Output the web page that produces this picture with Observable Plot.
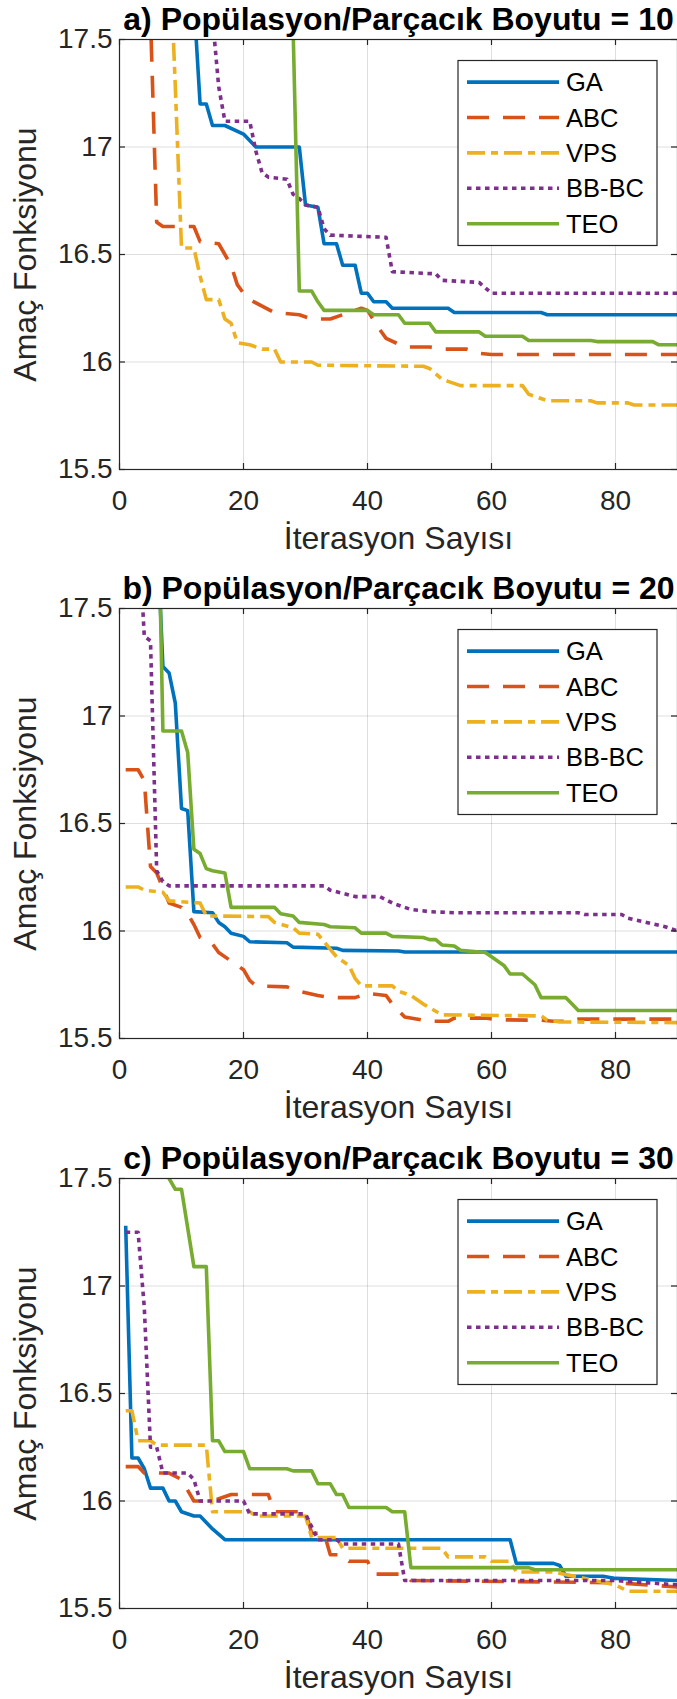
<!DOCTYPE html>
<html>
<head>
<meta charset="utf-8">
<script src="https://cdn.jsdelivr.net/npm/d3@7"></script>
<script src="https://cdn.jsdelivr.net/npm/@observablehq/plot@0.6"></script>
<style>
  body { margin: 0; background: #fff; overflow: hidden; }
  #chart svg { display: block; }
</style>
</head>
<body>
<div id="chart"></div>
<script>
// Convergence curves: objective value per iteration, three population sizes.
const iterTicks = [0, 20, 40, 60, 80];
const valueTicks = [15.5, 16, 16.5, 17, 17.5];
const algorithms = ["GA", "ABC", "VPS", "BB-BC", "TEO"];
const titles = [
  "a) Popülasyon/Parçacık Boyutu = 10",
  "b) Popülasyon/Parçacık Boyutu = 20",
  "c) Popülasyon/Parçacık Boyutu = 30"
];
const xLabel = "İterasyon Sayısı";
const yLabel = "Amaç Fonksiyonu";

// [iteration, objective] breakpoints — population 10
const gaPop10 = [[10,18.2],[12,17.68],[13,17.2],[14,17.2],[15,17.1],[17,17.1],[20,17.06],[22,17.0],[29,17.0],[30,16.73],[32,16.72],[33,16.55],[35,16.55],[36,16.45],[38,16.45],[39,16.32],[40,16.32],[41,16.28],[43,16.28],[44,16.25],[53,16.25],[54,16.23],[68,16.23],[69,16.22],[90,16.22]];
const abcPop10 = [[4,18.0],[5,17.6],[6,16.65],[7,16.63],[12,16.63],[13,16.56],[16,16.55],[17,16.5],[18,16.45],[19,16.36],[20,16.32],[21,16.29],[23,16.26],[25,16.23],[29,16.22],[31,16.2],[34,16.2],[36,16.22],[39,16.25],[40,16.24],[42,16.15],[43,16.11],[46,16.07],[50,16.07],[52,16.06],[56,16.06],[58,16.04],[60,16.035],[90,16.035]];
const vpsPop10 = [[8,18.0],[9,17.28],[10,16.53],[12,16.53],[13,16.4],[14,16.29],[16,16.29],[17,16.2],[18,16.18],[19,16.09],[21,16.08],[23,16.06],[25,16.06],[26,16.0],[31,16.0],[32,15.985],[49,15.98],[50,15.97],[52,15.92],[53,15.91],[55,15.89],[65,15.89],[66,15.85],[68,15.83],[69,15.82],[76,15.82],[77,15.81],[82,15.81],[83,15.8],[90,15.8]];
const bbbcPop10 = [[14,18.2],[15,17.6],[16,17.28],[17,17.12],[21,17.12],[22,16.98],[23,16.88],[24,16.86],[27,16.85],[28,16.78],[29,16.76],[30,16.73],[32,16.72],[33,16.62],[34,16.59],[43,16.58],[44,16.42],[51,16.41],[52,16.38],[58,16.37],[60,16.32],[90,16.32]];
const teoPop10 = [[27,19.0],[28,17.55],[29,16.33],[31,16.33],[32,16.28],[33,16.24],[40,16.24],[41,16.22],[45,16.22],[46,16.18],[50,16.18],[51,16.14],[58,16.14],[59,16.12],[65,16.12],[66,16.1],[76,16.1],[77,16.095],[86,16.095],[87,16.08],[90,16.08]];

// population 20
const gaPop20 = [[5,18.5],[6,17.9],[7,17.23],[8,17.2],[9,17.06],[10,16.57],[11,16.56],[12,16.09],[15,16.085],[16,16.04],[17,16.02],[18,15.99],[20,15.975],[21,15.95],[27,15.945],[28,15.925],[35,15.92],[36,15.91],[45,15.907],[46,15.902],[90,15.902]];
const abcPop20 = [[1,16.75],[3,16.75],[4,16.7],[5,16.3],[6,16.27],[7,16.2],[8,16.13],[10,16.11],[11,16.08],[12,16.03],[13,15.97],[15,15.94],[16,15.9],[18,15.86],[20,15.82],[21,15.77],[22,15.745],[27,15.74],[29,15.72],[32,15.7],[34,15.69],[38,15.69],[40,15.71],[43,15.7],[44,15.66],[46,15.6],[50,15.58],[53,15.58],[54,15.595],[59,15.595],[61,15.587],[68,15.585],[70,15.58],[73,15.58],[74,15.59],[90,15.59]];
const vpsPop20 = [[1,16.205],[3,16.205],[4,16.19],[7,16.18],[8,16.14],[13,16.13],[14,16.07],[24,16.067],[25,16.04],[28,16.015],[29,15.99],[32,15.985],[33,15.95],[35,15.88],[37,15.84],[38,15.78],[39,15.745],[44,15.745],[45,15.72],[47,15.7],[49,15.66],[52,15.61],[68,15.605],[69,15.585],[71,15.577],[90,15.574]];
const bbbcPop20 = [[3,17.9],[4,17.37],[5,17.35],[6,16.28],[7,16.23],[8,16.21],[33,16.21],[34,16.19],[38,16.16],[42,16.16],[44,16.13],[47,16.1],[50,16.09],[54,16.085],[74,16.085],[75,16.077],[81,16.077],[82,16.06],[85,16.04],[88,16.02],[90,16.0]];
const teoPop20 = [[6,18.35],[7,16.93],[10,16.93],[11,16.83],[12,16.38],[13,16.36],[14,16.29],[15,16.28],[17,16.27],[18,16.11],[25,16.11],[26,16.08],[28,16.07],[29,16.04],[33,16.03],[34,16.02],[38,16.015],[39,15.99],[43,15.99],[44,15.975],[49,15.97],[50,15.96],[51,15.96],[52,15.935],[54,15.93],[55,15.91],[59,15.9],[60,15.88],[62,15.84],[63,15.8],[65,15.8],[67,15.75],[68,15.69],[72,15.69],[73,15.66],[74,15.63],[90,15.63]];

// population 30
const gaPop30 = [[1,17.28],[2,16.2],[3,16.2],[4,16.15],[5,16.06],[7,16.06],[8,16.0],[9,16.0],[10,15.95],[12,15.93],[13,15.93],[14,15.9],[15,15.87],[17,15.82],[63,15.82],[64,15.71],[70,15.71],[71,15.7],[72,15.65],[78,15.65],[80,15.64],[90,15.63]];
const abcPop30 = [[1,16.16],[3,16.16],[4,16.13],[8,16.13],[10,16.1],[12,16.0],[15,16.0],[18,16.03],[24,16.03],[25,15.95],[30,15.95],[31,15.85],[33,15.85],[34,15.75],[36,15.75],[37,15.72],[40,15.72],[41,15.66],[46,15.66],[47,15.63],[80,15.62],[90,15.6]];
const vpsPop30 = [[1,16.42],[2,16.42],[3,16.28],[5,16.28],[6,16.26],[14,16.26],[15,15.95],[21,15.95],[22,15.93],[30,15.93],[31,15.83],[35,15.83],[36,15.78],[52,15.78],[53,15.74],[59,15.74],[60,15.72],[63,15.72],[64,15.67],[70,15.67],[80,15.61],[82,15.58],[90,15.58]];
const bbbcPop30 = [[1,17.25],[3,17.25],[4,16.9],[5,16.25],[6,16.25],[7,16.13],[11,16.13],[12,16.1],[13,16.0],[20,16.0],[21,15.94],[30,15.94],[32,15.82],[35,15.82],[36,15.8],[45,15.8],[46,15.63],[70,15.63],[80,15.63],[90,15.61]];
const teoPop30 = [[7,18.2],[8,17.5],[9,17.45],[10,17.45],[12,17.09],[14,17.09],[15,16.28],[16,16.28],[17,16.23],[20,16.23],[21,16.15],[27,16.15],[28,16.14],[31,16.14],[32,16.08],[34,16.08],[35,16.03],[36,16.03],[37,15.97],[43,15.97],[44,15.95],[46,15.95],[47,15.69],[66,15.69],[67,15.68],[90,15.68]];

const panelSeries = [
  [gaPop10, abcPop10, vpsPop10, bbbcPop10, teoPop10],
  [gaPop20, abcPop20, vpsPop20, bbbcPop20, teoPop20],
  [gaPop30, abcPop30, vpsPop30, bbbcPop30, teoPop30]
];

// MATLAB default line colours and line styles (-, --, -., :, -)
const colors = ["#0072BD", "#D95319", "#EDB120", "#7E2F8E", "#77AC30"];
const dashes = [null, "22,14", "18,6,7,6", "4.5,4.5", null];

const axisColor = "#262626";
const font = "'Liberation Sans', Arial, Helvetica, sans-serif";
const width = 677;
const marginLeft = 119, marginRight = 0;
const plotH = 430;
const plotW = width - marginLeft - marginRight;
const layout = [
  {height: 569, top: 39},
  {height: 569, top: 39},
  {height: 561, top: 40}
];

const chart = document.getElementById("chart");

panelSeries.forEach((series, p) => {
  const {height, top} = layout[p];
  const marginBottom = height - top - plotH;
  const marks = [
    Plot.gridX(iterTicks, {stroke: axisColor, strokeOpacity: 0.15, strokeWidth: 1}),
    Plot.gridY(valueTicks, {stroke: axisColor, strokeOpacity: 0.15, strokeWidth: 1})
  ];
  series.forEach((pts, i) => {
    marks.push(Plot.line(pts, {
      x: d => d[0], y: d => d[1],
      stroke: colors[i], strokeWidth: 3.6,
      strokeDasharray: dashes[i] ?? undefined,
      strokeLinecap: "butt", strokeLinejoin: "round",
      clip: true
    }));
  });
  marks.push(
    Plot.frame({stroke: axisColor, strokeWidth: 1.2}),
    // inward ticks on all four sides of the box
    Plot.tickX(iterTicks, {x: d => d, insetTop: plotH - 6, stroke: axisColor, strokeWidth: 1.2}),
    Plot.tickX(iterTicks, {x: d => d, insetBottom: plotH - 6, stroke: axisColor, strokeWidth: 1.2}),
    Plot.tickY(valueTicks, {y: d => d, insetRight: plotW - 6, stroke: axisColor, strokeWidth: 1.2}),
    Plot.tickY(valueTicks, {y: d => d, insetLeft: plotW - 6, stroke: axisColor, strokeWidth: 1.2}),
    Plot.axisX(iterTicks, {tickSize: 0, tickPadding: 21, fontSize: 28, fill: axisColor, label: null}),
    Plot.axisY(valueTicks, {tickSize: 0, tickPadding: 7, fontSize: 28, fill: axisColor, label: null, tickFormat: d => String(d)}),
    Plot.text([titles[p]], {text: d => d, frameAnchor: "top", lineAnchor: "bottom", dy: -10, fontSize: 32, fontWeight: "bold", fill: "#000"}),
    Plot.text([xLabel], {text: d => d, frameAnchor: "bottom", lineAnchor: "bottom", dy: 79, fontSize: 32, fill: axisColor}),
    Plot.text([yLabel], {text: d => d, frameAnchor: "left", textAnchor: "middle", lineAnchor: "bottom", rotate: -90, dx: -84, fontSize: 32, fill: axisColor})
  );

  const svg = Plot.plot({
    width, height,
    marginTop: top, marginBottom, marginLeft, marginRight,
    x: {domain: [0, 90]},
    y: {domain: [15.5, 17.5]},
    style: {fontFamily: font, background: "white", overflow: "visible"},
    marks
  });

  // legend box in the upper right of the axes
  const lg = d3.select(svg).append("g")
    .attr("transform", `translate(458,${top + 21.5})`)
    .attr("font-family", font)
    .attr("text-anchor", "start");
  lg.append("rect")
    .attr("width", 199).attr("height", 185)
    .attr("fill", "white").attr("stroke", axisColor).attr("stroke-width", 1.2);
  algorithms.forEach((name, i) => {
    const y = 21.6 + 35.4 * i;
    lg.append("line")
      .attr("x1", 9).attr("x2", 101).attr("y1", y).attr("y2", y)
      .attr("stroke", colors[i]).attr("stroke-width", 3.6)
      .attr("stroke-dasharray", dashes[i]);
    lg.append("text")
      .attr("x", 108).attr("y", y).attr("dy", "0.36em")
      .attr("font-size", 25.5).attr("fill", "#000")
      .text(name);
  });

  chart.appendChild(svg);
});
</script>
</body>
</html>
